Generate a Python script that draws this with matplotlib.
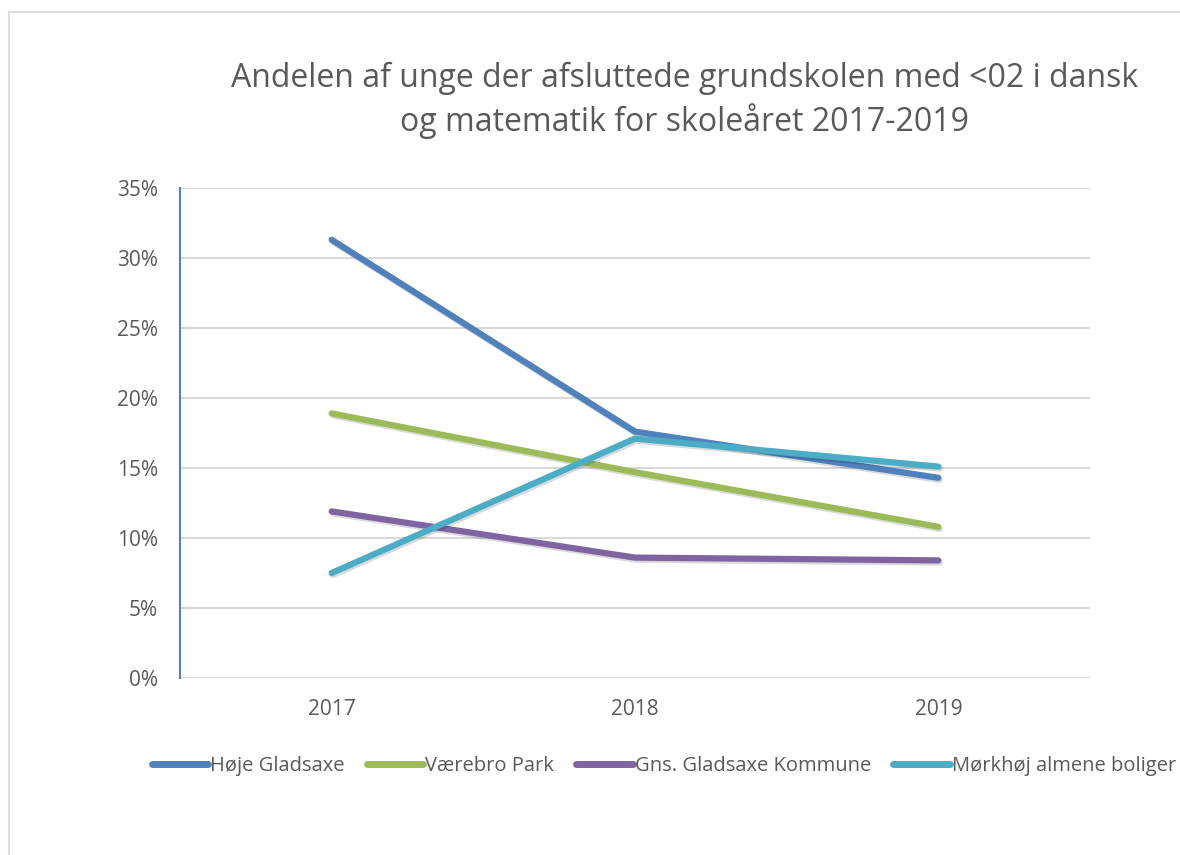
import matplotlib
matplotlib.use('Agg')
import matplotlib.pyplot as plt
import matplotlib.patheffects as pe
from matplotlib.ticker import PercentFormatter
from matplotlib.lines import Line2D

years = ['2017', '2018', '2019']
hoeje_gladsaxe = [31.3, 17.6, 14.3]
vaerebro_park = [18.9, 14.7, 10.8]
gns_gladsaxe = [11.9, 8.6, 8.4]
moerkhoej = [7.5, 17.1, 15.1]

series_names = ['Høje Gladsaxe', 'Værebro Park', 'Gns. Gladsaxe Kommune', 'Mørkhøj almene boliger']
series_values = [hoeje_gladsaxe, vaerebro_park, gns_gladsaxe, moerkhoej]
colors = ['#4F81BD', '#9BBB59', '#8064A2', '#4BACC6']

title = 'Andelen af unge der afsluttede grundskolen med <02 i dansk\nog matematik for skoleåret 2017-2019'

plt.rcParams['font.family'] = ['Open Sans', 'DejaVu Sans']
txt_color = '#595959'
grid_color = '#D9D9D9'

fig = plt.figure(figsize=(11.8, 8.55), dpi=100)
ax = fig.add_axes([180/1180, 1 - 678/855, 910/1180, 490/855])

x = range(len(years))
shadow = [pe.SimpleLineShadow(offset=(1, -1.5), alpha=0.15, shadow_color='black'), pe.Normal()]
for name, vals, c in zip(series_names, series_values, colors):
    ax.plot(x, vals, color=c, lw=4.5, solid_capstyle='round', solid_joinstyle='round',
            label=name, path_effects=shadow, zorder=3)

ax.set_xlim(-0.5, 2.5)
ax.set_ylim(0, 35)
ax.set_yticks(range(0, 36, 5))
ax.yaxis.set_major_formatter(PercentFormatter(decimals=0))
ax.set_xticks(list(x))
ax.set_xticklabels(years)
ax.grid(axis='y', color=grid_color, lw=1.5, zorder=0)
ax.set_axisbelow(True)
for s in ['top', 'right', 'bottom']:
    ax.spines[s].set_visible(False)
ax.spines['left'].set_color('#4F81BD')
ax.spines['left'].set_linewidth(1.5)
ax.tick_params(length=0, labelsize=15, labelcolor=txt_color)
ax.tick_params(axis='y', pad=16)
ax.tick_params(axis='x', pad=15)

fig.text(685/1180, 1 - 100/855, title, ha='center', va='center', fontsize=23,
         color=txt_color, linespacing=1.3)

# chart area border, cut at right and bottom like the screenshot
fig.add_artist(Line2D([9/1180, 9/1180], [0, 1 - 12/855], transform=fig.transFigure, color='#DDDDDD', lw=1.5))
fig.add_artist(Line2D([9/1180, 1], [1 - 12/855, 1 - 12/855], transform=fig.transFigure, color='#DDDDDD', lw=1.5))

handles = [Line2D([], [], color=c, lw=5, solid_capstyle='round') for c in colors]
fig.legend(handles, series_names, loc='center left', bbox_to_anchor=(152/1180, 1 - 766/855),
           ncol=4, frameon=False, fontsize=14.5, handlelength=2.8, handletextpad=0.1,
           columnspacing=1.1, labelcolor=txt_color, borderaxespad=0, borderpad=0)

fig.savefig('out.png', dpi=100, facecolor='white')
